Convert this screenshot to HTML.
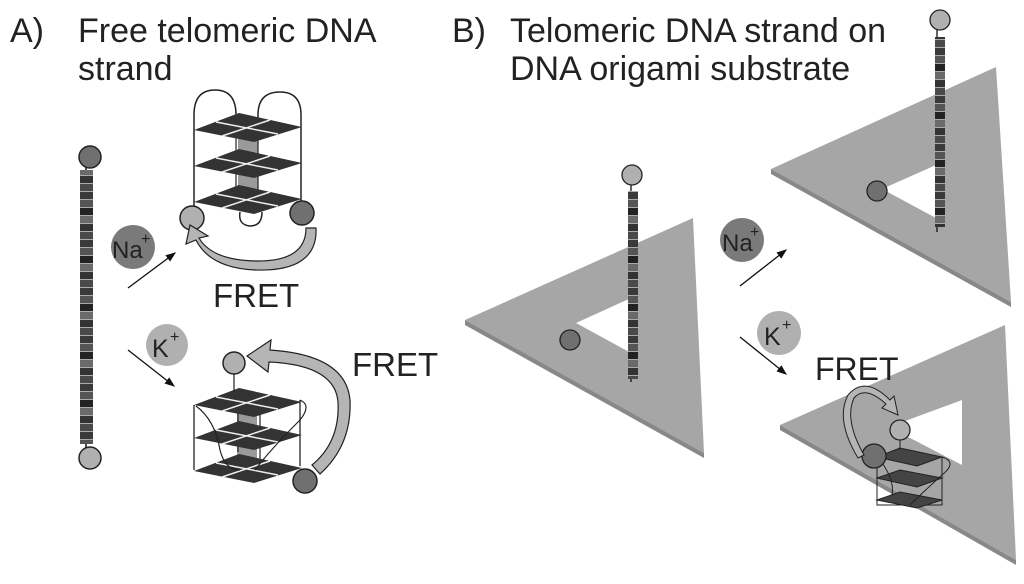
<!DOCTYPE html>
<html><head><style>
html,body{margin:0;padding:0;background:#fff;}
svg{display:block;}
text{font-family:"Liberation Sans",sans-serif;fill:#222;}
</style></head><body>
<svg width="1024" height="584" viewBox="0 0 1024 584" xmlns="http://www.w3.org/2000/svg">
<defs>
<pattern id="str" x="0" y="0" width="12" height="48" patternUnits="userSpaceOnUse">
<rect width="12" height="48" fill="#2a2a2a"/>
<rect y="0" width="12" height="7" fill="#3a3a3a"/>
<rect y="8" width="12" height="7" fill="#555"/>
<rect y="16" width="12" height="7" fill="#222"/>
<rect y="24" width="12" height="7" fill="#6a6a6a"/>
<rect y="32" width="12" height="7" fill="#333"/>
<rect y="40" width="12" height="7" fill="#4a4a4a"/>
<rect y="7" width="12" height="1" fill="#aaa"/><rect y="15" width="12" height="1" fill="#aaa"/>
<rect y="23" width="12" height="1" fill="#aaa"/><rect y="31" width="12" height="1" fill="#aaa"/>
<rect y="39" width="12" height="1" fill="#aaa"/><rect y="47" width="12" height="1" fill="#aaa"/>
</pattern>
<g id="layer">
<polygon points="0,3 45,-14 108,0 60,15" fill="#333"/>
<line x1="22" y1="-5" x2="84" y2="7" stroke="#eee" stroke-width="1.5"/>
<line x1="28" y1="9" x2="76" y2="-7" stroke="#eee" stroke-width="1.5"/>
</g>
<marker id="ah" markerWidth="8" markerHeight="8" refX="7" refY="4" orient="auto"><path d="M0,1 L8,4 L0,7 Z" fill="#111"/></marker>
</defs>

<!-- Titles -->
<text x="10" y="42" font-size="34">A)</text>
<text x="78" y="42" font-size="34">Free telomeric DNA</text>
<text x="78" y="80" font-size="34">strand</text>
<text x="452" y="42" font-size="34">B)</text>
<text x="510" y="42" font-size="34">Telomeric DNA strand on</text>
<text x="510" y="80" font-size="34">DNA origami substrate</text>

<!-- Panel A strand -->
<line x1="86" y1="160" x2="86" y2="455" stroke="#111" stroke-width="1.5"/>
<rect x="80" y="170" width="13" height="274" fill="url(#str)"/>
<circle cx="90" cy="157" r="11" fill="#707070" stroke="#222" stroke-width="1.5"/>
<circle cx="90" cy="458" r="11" fill="#b0b0b0" stroke="#222" stroke-width="1.5"/>

<!-- Na+ -->
<circle cx="133" cy="247" r="22" fill="#7a7a7a"/>
<text x="112" y="258" font-size="24">Na</text><text x="141" y="244" font-size="16">+</text>
<line x1="128" y1="288" x2="175" y2="253" stroke="#111" stroke-width="1.3" marker-end="url(#ah)"/>

<!-- Upper quadruplex -->
<rect x="238" y="130" width="20" height="80" fill="#9a9a9a"/>
<path d="M194,215 L194,115 Q194,90 215,90 Q236,90 236,115" fill="none" stroke="#222" stroke-width="1.5"/>
<path d="M258,130 L258,115 Q258,92 280,92 Q301,92 301,115 L301,210" fill="none" stroke="#222" stroke-width="1.5"/>
<line x1="236" y1="115" x2="236" y2="195" stroke="#222" stroke-width="1.2"/>
<line x1="258" y1="130" x2="258" y2="208" stroke="#222" stroke-width="1.2"/>
<use href="#layer" x="194" y="127"/>
<use href="#layer" x="194" y="163"/>
<use href="#layer" x="194" y="199"/>
<path d="M240,212 Q238,225 250,226 Q262,226 262,212" fill="none" stroke="#222" stroke-width="1.5"/>
<circle cx="192" cy="218" r="12" fill="#b0b0b0" stroke="#222" stroke-width="1.5"/>
<circle cx="302" cy="213" r="12" fill="#707070" stroke="#222" stroke-width="1.5"/>
<path d="M306,228 L316,228 Q318,272 255,270 Q210,268 196,240 L186,244 L190,225 L208,236 L199,238 Q212,260 255,261 Q306,262 306,228 Z" fill="#b5b5b5" stroke="#222" stroke-width="1.2"/>
<text x="213" y="307" font-size="33">FRET</text>

<!-- K+ -->
<circle cx="167" cy="345" r="21" fill="#b0b0b0"/>
<text x="152" y="357" font-size="25">K</text><text x="170" y="342" font-size="16">+</text>
<line x1="128" y1="350" x2="174" y2="386" stroke="#111" stroke-width="1.3" marker-end="url(#ah)"/>

<!-- Lower quadruplex -->
<rect x="237" y="395" width="20" height="75" fill="#9a9a9a"/>
<line x1="194" y1="405" x2="194" y2="470" stroke="#222" stroke-width="1.3"/>
<line x1="300" y1="400" x2="300" y2="466" stroke="#222" stroke-width="1.3"/>
<line x1="238" y1="392" x2="238" y2="452" stroke="#222" stroke-width="1.2"/>
<line x1="260" y1="410" x2="260" y2="480" stroke="#222" stroke-width="1.2"/>
<use href="#layer" x="194" y="402"/>
<use href="#layer" x="194" y="435"/>
<use href="#layer" x="194" y="468"/>
<path d="M196,406 Q215,420 220,450 Q225,470 240,470" fill="none" stroke="#222" stroke-width="1.2"/>
<path d="M300,400 Q312,405 300,420 Q270,450 255,470" fill="none" stroke="#222" stroke-width="1.2"/>
<line x1="234" y1="374" x2="234" y2="392" stroke="#222" stroke-width="1.2"/>
<circle cx="234" cy="363" r="11" fill="#b0b0b0" stroke="#222" stroke-width="1.5"/>
<circle cx="305" cy="481" r="12" fill="#707070" stroke="#222" stroke-width="1.5"/>
<path d="M320,474 Q352,445 350,400 Q346,355 270,350 L271,340 L247,356 L268,372 L269,362 Q335,365 338,402 Q340,442 312,465 Z" fill="#b5b5b5" stroke="#222" stroke-width="1.2"/>
<text x="352" y="376" font-size="33">FRET</text>

<!-- Panel B triangles -->
<polygon points="465,320 693,218 704,453" fill="#a6a6a6"/>
<polygon points="465,320 704,453 704,458 465,325" fill="#888"/>
<polygon points="576,323 631,298 631,353" fill="#fff"/>
<polygon points="771,169 996,67 1011,302" fill="#a6a6a6"/>
<polygon points="771,169 1011,302 1011,307 771,174" fill="#888"/>
<polygon points="882,189 936,165 936,218" fill="#fff"/>
<polygon points="780,425 1005,325 1016,560" fill="#a6a6a6"/>
<polygon points="780,425 1016,560 1016,565 780,430" fill="#888"/>
<polygon points="889,427 962,400 962,465" fill="#fff"/>

<line x1="631" y1="185" x2="631" y2="382" stroke="#111" stroke-width="1.3"/>
<rect x="628" y="191" width="10" height="188" fill="url(#str)"/>
<circle cx="632" cy="175" r="10" fill="#b0b0b0" stroke="#222" stroke-width="1.3"/>
<circle cx="570" cy="340" r="10" fill="#707070" stroke="#222" stroke-width="1.3"/>

<line x1="937" y1="30" x2="937" y2="232" stroke="#111" stroke-width="1.3"/>
<rect x="935" y="37" width="10" height="190" fill="url(#str)"/>
<circle cx="940" cy="20" r="10" fill="#b0b0b0" stroke="#222" stroke-width="1.3"/>
<circle cx="877" cy="191" r="10" fill="#707070" stroke="#222" stroke-width="1.3"/>

<circle cx="742" cy="240" r="22" fill="#7a7a7a"/>
<text x="722" y="251" font-size="24">Na</text><text x="750" y="237" font-size="16">+</text>
<line x1="740" y1="286" x2="786" y2="250" stroke="#111" stroke-width="1.3" marker-end="url(#ah)"/>

<circle cx="779" cy="333" r="22" fill="#b0b0b0"/>
<text x="764" y="345" font-size="25">K</text><text x="782" y="330" font-size="16">+</text>
<line x1="740" y1="337" x2="786" y2="374" stroke="#111" stroke-width="1.3" marker-end="url(#ah)"/>
<text x="815" y="380" font-size="32">FRET</text>

<g stroke="#222" stroke-width="1" fill="none">
<rect x="877" y="457" width="65" height="48"/>
<polygon points="877,457 900,448 942,457 917,466" fill="#444"/>
<polygon points="877,478 900,470 942,478 917,487" fill="#444"/>
<polygon points="877,500 900,492 942,500 917,508" fill="#444"/>
<path d="M942,457 Q958,462 942,475 Q920,495 910,505"/>
<path d="M880,460 Q895,480 892,495"/>
</g>
<line x1="900" y1="440" x2="900" y2="450" stroke="#222" stroke-width="1"/>
<circle cx="900" cy="430" r="10" fill="#b0b0b0" stroke="#222" stroke-width="1.3"/>
<circle cx="874" cy="456" r="12" fill="#707070" stroke="#222" stroke-width="1.3"/>
<path d="M858,458 Q835,420 848,395 Q865,375 890,400 L894,396 L898,415 L882,408 L886,404 Q865,385 854,398 Q844,420 864,455 Z" fill="#b5b5b5" stroke="#222" stroke-width="1"/>
</svg>
</body></html>
